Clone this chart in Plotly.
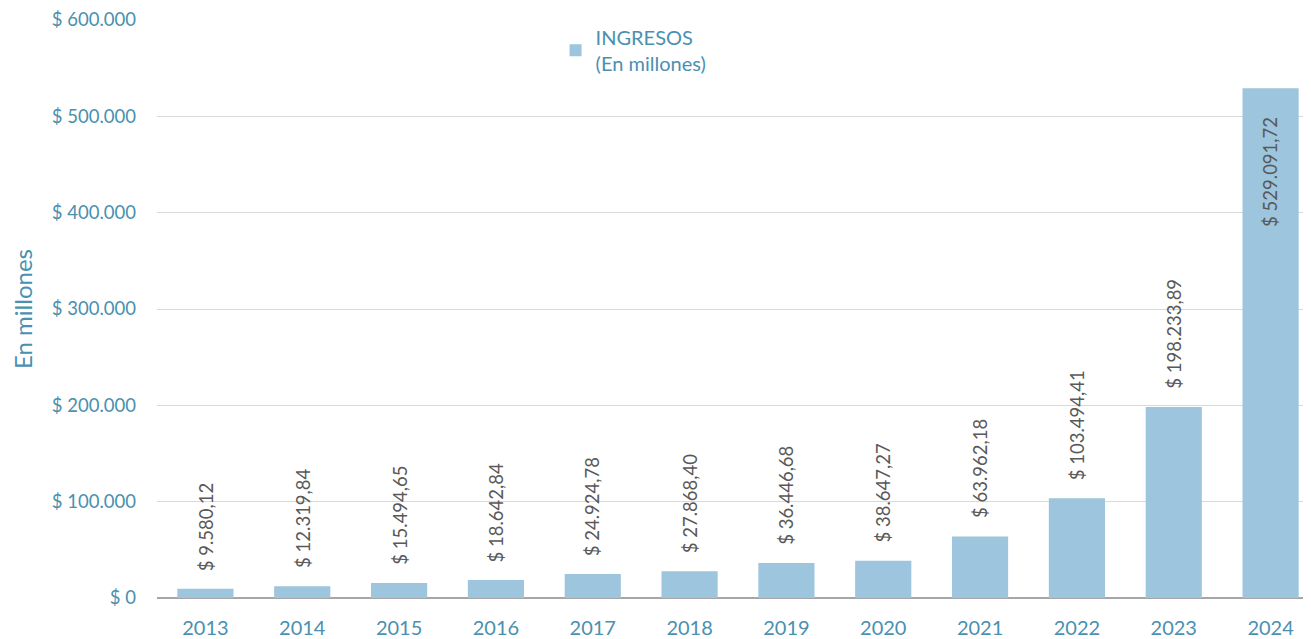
import plotly.graph_objects as go

years = ["2013", "2014", "2015", "2016", "2017", "2018", "2019", "2020", "2021", "2022", "2023", "2024"]
ingresos = [9580.12, 12319.84, 15494.65, 18642.84, 24924.78, 27868.40, 36446.68, 38647.27,
            63962.18, 103494.41, 198233.89, 529091.72]
labels = ["$ 9.580,12", "$ 12.319,84", "$ 15.494,65", "$ 18.642,84", "$ 24.924,78", "$ 27.868,40",
          "$ 36.446,68", "$ 38.647,27", "$ 63.962,18", "$ 103.494,41", "$ 198.233,89", "$ 529.091,72"]
tick_vals = [0, 100000, 200000, 300000, 400000, 500000, 600000]
tick_text = ["$ 0", "$ 100.000", "$ 200.000", "$ 300.000", "$ 400.000", "$ 500.000", "$ 600.000"]

FONT = "Lato, 'Open Sans', sans-serif"
BLUE_TXT = "#4A90B0"
GREY_TXT = "#595959"

fig = go.Figure()
fig.add_trace(go.Bar(
    x=years, y=ingresos, name="INGRESOS<br>(En millones)",
    marker=dict(color="#9DC5DD", line=dict(width=0)),
))

# data labels (rotated), placed above the bar except the last one (inside at top)
for i, (v, lab) in enumerate(zip(ingresos, labels)):
    inside = (i == len(years) - 1)
    fig.add_annotation(
        x=i, y=v, xref="x", yref="y", text=lab, textangle=-90,
        showarrow=False,
        xanchor="center",
        yanchor="top" if inside else "bottom",
        yshift=-27 if inside else 16,
        font=dict(family=FONT, size=18.5, color=GREY_TXT),
    )

fig.update_layout(
    width=1311, height=639,
    margin=dict(l=149, r=0, t=12, b=49),
    paper_bgcolor="white", plot_bgcolor="white",
    bargap=0.42,
    font=dict(family=FONT, color=BLUE_TXT),
    showlegend=True,
    legend=dict(x=0.343, y=1.004, xanchor="left", yanchor="top",
                font=dict(family=FONT, size=20, color=BLUE_TXT),
                bgcolor="rgba(0,0,0,0)", itemwidth=30),
)
fig.update_xaxes(
    type="category", showgrid=False, showline=False, ticks="",
    tickfont=dict(family=FONT, size=20, color=BLUE_TXT),
    automargin=False, ticklabelstandoff=16,
)
fig.update_yaxes(
    range=[0, 600000], tickvals=tick_vals, ticktext=tick_text,
    showgrid=True, gridcolor="#D9D9D9", gridwidth=1,
    zeroline=True, zerolinecolor="#A6A6A6", zerolinewidth=2,
    tickfont=dict(family=FONT, size=18.5, color=BLUE_TXT),
    ticks="", ticklabelstandoff=20, automargin=False,
    title=dict(text="En millones", font=dict(family=FONT, size=24, color=BLUE_TXT), standoff=20),
)

fig.write_html("out.html")
